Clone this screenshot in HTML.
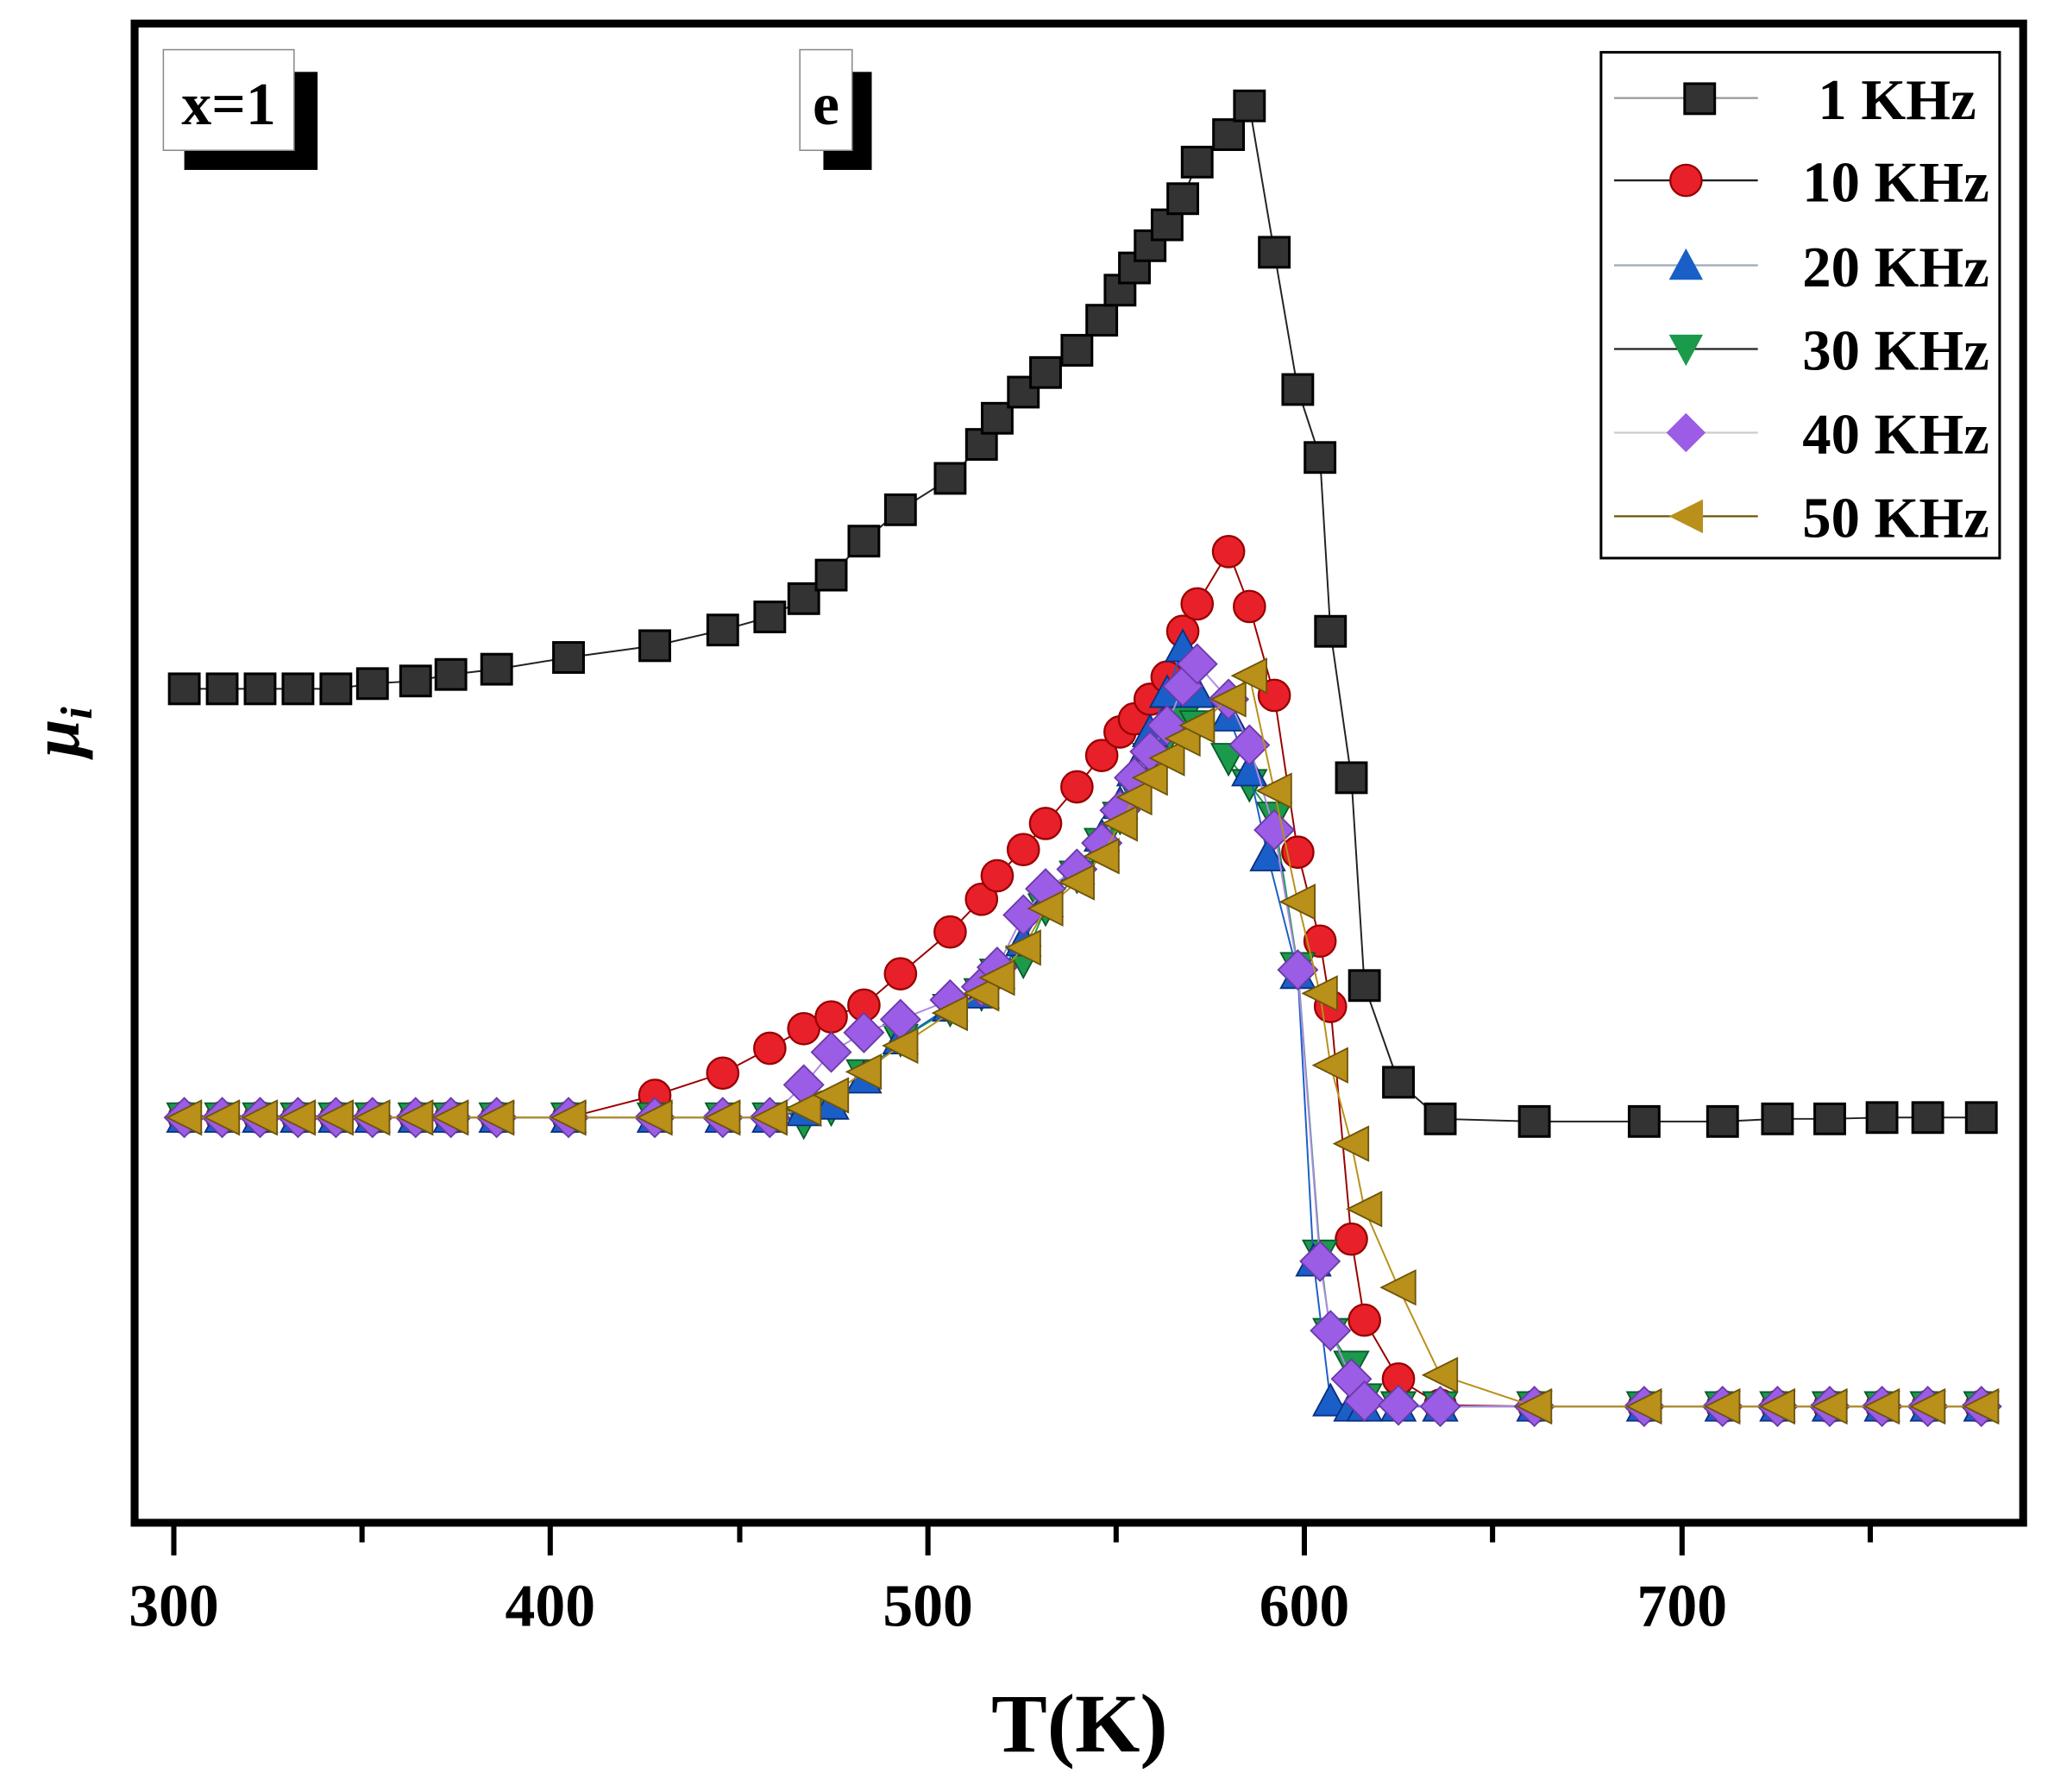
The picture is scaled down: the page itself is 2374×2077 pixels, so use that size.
<!DOCTYPE html>
<html><head><meta charset="utf-8"><style>
html,body{margin:0;padding:0;background:#fff}
svg{display:block}
text{font-family:"Liberation Serif",serif;font-weight:bold;fill:#000}
</style></head><body>
<svg width="2374" height="2077" viewBox="0 0 1567 1371" preserveAspectRatio="none" xmlns="http://www.w3.org/2000/svg">
<defs>
<marker id="sq" markerUnits="userSpaceOnUse" markerWidth="30" markerHeight="30" refX="15" refY="15" viewBox="0 0 30 30"><rect x="3.5" y="3.5" width="23" height="23" fill="#333" stroke="#000" stroke-width="2"/></marker>
<marker id="ci" markerUnits="userSpaceOnUse" markerWidth="30" markerHeight="30" refX="15" refY="15" viewBox="0 0 30 30"><circle cx="15" cy="15" r="12" fill="#e8202a" stroke="#900" stroke-width="1.5"/></marker>
<marker id="tu" markerUnits="userSpaceOnUse" markerWidth="30" markerHeight="30" refX="15" refY="15" viewBox="0 0 30 30"><polygon points="15,2 28,26 2,26" fill="#1a5fc8" stroke="#0a2f80" stroke-width="1.2"/></marker>
<marker id="td" markerUnits="userSpaceOnUse" markerWidth="30" markerHeight="30" refX="15" refY="15" viewBox="0 0 30 30"><polygon points="2,4 28,4 15,28" fill="#1a9a4a" stroke="#0a5a2a" stroke-width="1.2"/></marker>
<marker id="di" markerUnits="userSpaceOnUse" markerWidth="32" markerHeight="32" refX="16" refY="16" viewBox="0 0 32 32"><polygon points="16,1 31,16 16,31 1,16" fill="#9b5de5" stroke="#6a3aa8" stroke-width="1.2"/></marker>
<marker id="tl" markerUnits="userSpaceOnUse" markerWidth="30" markerHeight="30" refX="15" refY="15" viewBox="0 0 30 30"><polygon points="2,15 28,2 28,28" fill="#b8901a" stroke="#6e5408" stroke-width="1.2"/></marker>
</defs>
<rect width="1567" height="1371" fill="#fff"/>
<rect x="103" y="18" width="1445" height="1147" fill="none" stroke="#000" stroke-width="6"/>
<g stroke="#000" stroke-width="4">
<line x1="133" y1="1165" x2="133" y2="1190"/><line x1="277" y1="1165" x2="277" y2="1180"/>
<line x1="421" y1="1165" x2="421" y2="1190"/><line x1="566" y1="1165" x2="566" y2="1180"/>
<line x1="710" y1="1165" x2="710" y2="1190"/><line x1="854" y1="1165" x2="854" y2="1180"/>
<line x1="998" y1="1165" x2="998" y2="1190"/><line x1="1142" y1="1165" x2="1142" y2="1180"/>
<line x1="1287" y1="1165" x2="1287" y2="1190"/><line x1="1431" y1="1165" x2="1431" y2="1180"/>
</g>
<g font-size="46" text-anchor="middle">
<text x="133" y="1244">300</text><text x="421" y="1244">400</text><text x="710" y="1244">500</text><text x="998" y="1244">600</text><text x="1287" y="1244">700</text>
</g>
<text x="826" y="1340" font-size="64" text-anchor="middle">T(K)</text>
<text x="0" y="0" font-size="52" font-style="italic" transform="translate(60,560) rotate(-90)" text-anchor="middle">μ<tspan font-size="34" dy="10">i</tspan></text>
<rect x="141" y="55" width="102" height="75" fill="#000"/>
<rect x="125" y="38" width="100" height="77" fill="#fff" stroke="#888" stroke-width="1"/>
<text x="175" y="95" font-size="46" text-anchor="middle">x=1</text>
<rect x="630" y="55" width="37" height="75" fill="#000"/>
<rect x="612" y="38" width="40" height="77" fill="#fff" stroke="#888" stroke-width="1"/>
<text x="632" y="95" font-size="46" text-anchor="middle">e</text>
<g fill="none" stroke-width="1.3">
<polyline stroke="#222" marker-start="url(#sq)" marker-mid="url(#sq)" marker-end="url(#sq)" points="141,527 170,527 199,527 228,527 257,527 285,523 318,521 345,516 380,512 435,503 501,494 553,482 589,472 615,458 636,440 661,414 689,390 727,366 751,340 763,320 783,300 800,285 824,268 843,245 857,222 868,205 880,188 893,172 905,152 916,124 940,103 956,81 975,193 993,298 1010,350 1018,483 1034,595 1044,754 1070,828 1102,856 1174,858 1258,858 1318,858 1360,856 1400,856 1440,855 1475,855 1516,855"/>
<polyline stroke="#900" marker-start="url(#ci)" marker-mid="url(#ci)" marker-end="url(#ci)" points="141,855 170,855 199,855 228,855 257,855 285,855 318,855 345,855 380,855 435,855 501,838 553,821 589,802 615,787 636,778 661,769 689,745 727,713 751,688 763,670 783,650 800,630 824,602 843,578 857,560 868,550 880,535 893,518 905,483 916,462 940,422 956,464 975,532 993,652 1010,720 1018,770 1034,948 1044,1010 1070,1055 1102,1075 1174,1076 1258,1076 1318,1076 1360,1076 1400,1076 1440,1076 1475,1076 1516,1076"/>
<polyline stroke="#1a9a4a" marker-start="url(#td)" marker-mid="url(#td)" marker-end="url(#td)" points="141,855 170,855 199,855 228,855 257,855 285,855 318,855 345,855 380,855 435,855 501,855 553,855 589,855 615,858 636,848 661,822 689,795 727,772 751,760 763,745 783,735 800,695 824,670 843,645 857,625 868,605 880,580 893,565 905,550 916,555 940,580 956,600 975,625 993,740 1010,960 1018,1020 1034,1045 1044,1070 1070,1076 1102,1076 1174,1076 1258,1076 1318,1076 1360,1076 1400,1076 1440,1076 1475,1076 1516,1076"/>
<polyline stroke="#1a5fc8" marker-start="url(#tu)" marker-mid="url(#tu)" marker-end="url(#tu)" points="141,855 170,855 199,855 228,855 257,855 285,855 318,855 345,855 380,855 435,855 501,855 553,855 589,855 615,850 636,845 661,825 689,795 727,770 751,760 763,745 783,720 800,690 824,665 843,640 857,615 868,590 880,560 893,530 905,495 916,530 940,548 956,590 970,655 993,745 1005,965 1018,1072 1034,1076 1044,1076 1070,1076 1102,1076 1174,1076 1258,1076 1318,1076 1360,1076 1400,1076 1440,1076 1475,1076 1516,1076"/>
<polyline stroke="#b08ae0" marker-start="url(#di)" marker-mid="url(#di)" marker-end="url(#di)" points="141,855 170,855 199,855 228,855 257,855 285,855 318,855 345,855 380,855 435,855 501,855 553,855 589,855 615,830 636,805 661,790 689,780 727,765 751,755 763,740 783,700 800,680 824,665 843,645 857,620 868,595 880,575 893,555 905,525 916,508 940,535 956,570 975,635 993,742 1010,965 1018,1018 1034,1055 1044,1072 1070,1075 1102,1076 1174,1076 1258,1076 1318,1076 1360,1076 1400,1076 1440,1076 1475,1076 1516,1076"/>
<polyline stroke="#b8901a" marker-start="url(#tl)" marker-mid="url(#tl)" marker-end="url(#tl)" points="141,855 170,855 199,855 228,855 257,855 285,855 318,855 345,855 380,855 435,855 501,855 553,855 589,855 615,848 636,838 661,820 689,800 727,775 751,760 763,748 783,725 800,695 824,675 843,655 857,630 868,610 880,595 893,580 905,565 916,555 940,535 956,517 975,605 993,690 1010,760 1018,815 1034,875 1044,925 1070,985 1102,1052 1174,1076 1258,1076 1318,1076 1360,1076 1400,1076 1440,1076 1475,1076 1516,1076"/>
</g>
<rect x="1225" y="40" width="305" height="387" fill="#fff" stroke="#000" stroke-width="2"/>
<g stroke-width="1.5">
<line x1="1235" y1="75" x2="1345" y2="75" stroke="#999"/><line x1="1235" y1="138" x2="1345" y2="138" stroke="#222"/>
<line x1="1235" y1="203" x2="1345" y2="203" stroke="#9ab"/><line x1="1235" y1="267" x2="1345" y2="267" stroke="#222"/>
<line x1="1235" y1="331" x2="1345" y2="331" stroke="#ccc"/><line x1="1235" y1="395" x2="1345" y2="395" stroke="#6e5408"/>
</g>
<rect x="1289" y="64" width="23" height="23" fill="#333" stroke="#000" stroke-width="2"/>
<circle cx="1290" cy="138" r="12" fill="#e8202a" stroke="#900" stroke-width="1.5"/>
<polygon points="1290,190 1303,214 1277,214" fill="#1a5fc8"/>
<polygon points="1277,256 1303,256 1290,280" fill="#1a9a4a"/>
<polygon points="1290,316 1305,331 1290,346 1275,331" fill="#9b5de5"/>
<polygon points="1277,395 1303,382 1303,408" fill="#b8901a"/>
<g font-size="44" text-anchor="end">
<text x="1512" y="91">1 KHz</text><text x="1522" y="154">10 KHz</text><text x="1522" y="219">20 KHz</text>
<text x="1522" y="283">30 KHz</text><text x="1522" y="347">40 KHz</text><text x="1522" y="411">50 KHz</text>
</g>
</svg>
</body></html>
